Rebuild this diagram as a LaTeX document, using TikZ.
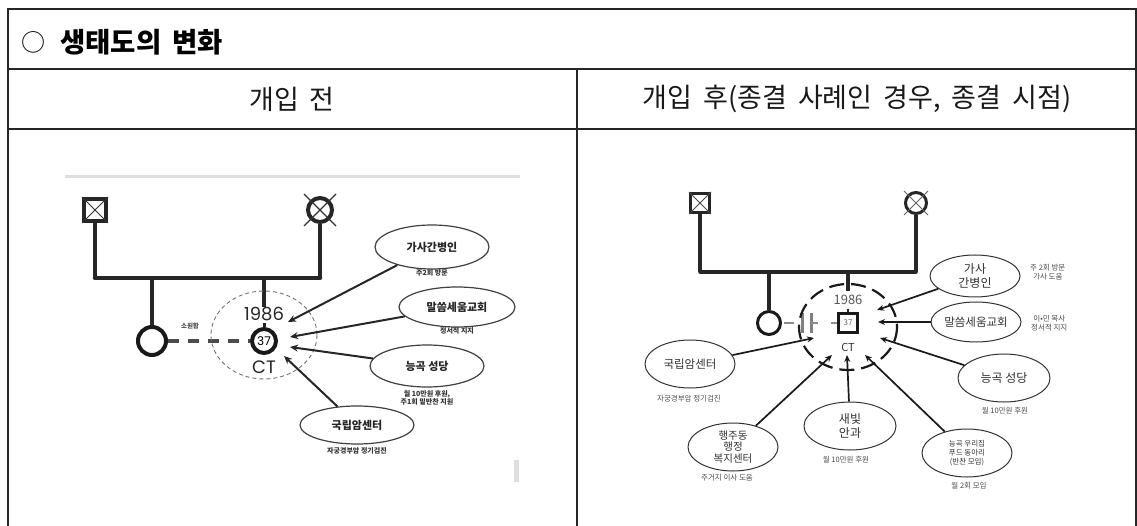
\documentclass[tikz,border=0pt]{standalone}
\usepackage{fontspec}
\setmainfont{Noto Sans CJK KR}
\newfontfamily\geo{Poppins}
\usetikzlibrary{shapes.geometric,arrows.meta,calc}
\begin{document}
\begin{tikzpicture}[x=1pt,y=-1pt,
  grid/.style={line width=1.3pt, draw=black!85},
  lbub/.style={ellipse, draw=black!75, line width=1.2pt, inner sep=0pt, font=\bfseries\fontsize{11}{12}\selectfont, text=black!85},
  rbub/.style={ellipse, draw=black!80, line width=1pt, inner sep=0pt, align=center, font=\fontsize{12}{14}\selectfont, text=black!80},
  lsub/.style={font=\bfseries\fontsize{7}{8.5}\selectfont, text=black!80, align=center, inner sep=0pt},
  rsub/.style={font=\fontsize{7.5}{9}\selectfont, text=black!70, align=center, inner sep=0pt},
  larr/.style={-{Stealth[length=8pt,width=7pt]}, line width=2pt, draw=black!85},
  rarr/.style={-{Stealth[length=7pt,width=6pt]}, line width=1.7pt, draw=black!90},
  lgen/.style={line width=4.5pt, draw=black!85},
  rgen/.style={line width=3.5pt, draw=black!85},
  lnum/.style={font=\geo\fontsize{18}{18}\selectfont, text=black!85, inner sep=0pt},
  rnum/.style={font=\fontsize{13}{13}\selectfont, text=black!65, inner sep=0pt},
  head/.style={font=\fontsize{27}{29}\selectfont, text=black!90, inner sep=0pt}
]
\useasboundingbox (0,0) rectangle (1137,526);
\fill[white] (0,0) rectangle (1137,526);

% ---------- table ----------
\draw[grid] (8,526) -- (8,9) -- (1136,9) -- (1136,526);
\draw[grid] (8,69) -- (1136,69);
\draw[grid] (8,129) -- (1136,129);
\draw[grid] (577,69) -- (577,526);
\node[anchor=west, font=\fontsize{24}{26}\selectfont, inner sep=0pt] (tcirc) at (21,42) {○};
\node[anchor=west, font=\bfseries\fontsize{27.5}{29}\selectfont, inner sep=0pt] (title) at (60,42) {생태도의\hskip 11pt 변화};
\node[head] (hbefore) at (292,99) {개입\hskip 11pt 전};
\node[head] (hafter) at (857,99) {\spaceskip=11pt 개입 후(종결 사례인 경우, 종결 시점)};

% ---------- left diagram ----------
\draw[line width=3pt, draw=black!13] (65,177) -- (520,177);
\fill[black!13] (514,460) rectangle (519,482);

% parents
\node[draw=black!85, line width=4pt, minimum size=22pt, inner sep=0pt] (lfa) at (95,210) {};
\draw[line width=1pt, black!80] (lfa.north west) -- (lfa.south east) (lfa.north east) -- (lfa.south west);
\node[circle, draw=black!85, line width=4pt, minimum size=24pt, inner sep=0pt] (lmo) at (320,210) {};
\draw[line width=1.2pt, black!80] ($(lmo)+(-16,-16)$) -- ($(lmo)+(16,16)$);
\draw[line width=1.2pt, black!80] ($(lmo)+(16,-16)$) -- ($(lmo)+(-16,16)$);
\coordinate (lfb) at (95,278);
\coordinate (lmb) at (320,278);
\draw[lgen] (lfa.south) -- (lfb);
\draw[lgen] (lmo.south) -- (lmb);
\draw[lgen, line cap=round] (lfb) -- (lmb);

% children
\node[circle, draw=black!90, line width=4pt, minimum size=28pt, inner sep=0pt] (lsis) at (152,341) {};
\coordinate (lsisT) at (152,278);
\draw[lgen] (lsisT) -- (lsis.north);
\node[lnum] (lyear) at (264,314) {1986};
\coordinate (lctT) at (264,278);
\draw[lgen] (lctT) -- (lyear.north);
\node[circle, draw=black!90, line width=4pt, minimum size=24pt, inner sep=0pt, font=\geo\fontsize{12}{12}\selectfont] (lct) at (264,341) {37};
\draw[line width=3pt, black!85] (lct.north) -- ++(0,-4);
\node[lnum] (lctlab) at (264,367) {CT};
\draw[line width=4pt, draw=black!70, dash pattern=on 11pt off 9pt] (lsis.east) -- (lct.west);
\node[font=\bfseries\fontsize{6.5}{7}\selectfont, text=black!70, inner sep=0pt] (lestr) at (190,326) {소원함};
\draw[line width=0.9pt, draw=black!55, dash pattern=on 4pt off 3pt] (264,335) ellipse (53 and 44);

% ecomap bubbles
\node[lbub, minimum width=114pt, minimum height=44pt] (lga) at (432,247) {가사간병인};
\node[lsub] (lgas) at (432,273) {주2회 방문};
\node[lbub, minimum width=116pt, minimum height=40pt] (lmal) at (457,307) {말씀세움교회};
\node[lsub] (lmals) at (457,331) {정서적 지지};
\node[lbub, minimum width=114pt, minimum height=42pt] (lnung) at (427,366) {능곡 성당};
\node[lsub] (lnungs) at (427,398) {월 10만원 후원,\\주1회 밑반찬 지원};
\node[lbub, minimum width=114pt, minimum height=38pt] (lcan) at (357,425) {국립암센터};
\node[lsub] (lcans) at (357,451) {자궁경부암 정기검진};

\coordinate (lt1) at (288,322);
\coordinate (lt2) at (290,337);
\coordinate (lt3) at (290,347);
\coordinate (lt4) at (284,356);
\draw[larr] (lga) -- (lt1);
\draw[larr] (lmal) -- (lt2);
\draw[larr] (lnung) -- (lt3);
\draw[larr] (lcan) -- (lt4);

% ---------- right diagram ----------
\node[draw=black!85, line width=3pt, minimum size=19pt, inner sep=0pt] (rfa) at (700,203) {};
\draw[line width=0.8pt, black!70] (rfa.north west) -- (rfa.south east) (rfa.north east) -- (rfa.south west);
\node[circle, draw=black!85, line width=3pt, minimum size=21pt, inner sep=0pt] (rmo) at (916,203) {};
\draw[line width=0.8pt, black!60] ($(rmo)+(-12,-12)$) -- ($(rmo)+(12,12)$);
\draw[line width=0.8pt, black!60] ($(rmo)+(12,-12)$) -- ($(rmo)+(-12,12)$);
\coordinate (rfb) at (700,272);
\coordinate (rmb) at (916,272);
\draw[rgen] (rfa.south) -- (rfb);
\draw[rgen] (rmo.south) -- (rmb);
\draw[rgen, line cap=round] (rfb) -- (rmb);

\node[circle, draw=black!90, line width=3pt, minimum size=23pt, inner sep=0pt] (rsis) at (769,323) {};
\coordinate (rsisT) at (769,272);
\draw[rgen] (rsisT) -- (rsis.north);
\coordinate (rctT) at (848,272);
\coordinate (rctB) at (848,291);
\draw[rgen] (rctT) -- (rctB);
\node[rnum] (ryear) at (848,300) {1986};
\node[draw=black!90, line width=3pt, minimum size=19pt, inner sep=0pt, font=\fontsize{8}{8}\selectfont, text=black!60] (rct) at (848,323) {37};
\draw[line width=2.5pt, black!85] (rct.north) -- ++(0,-3);
\node[font=\fontsize{11}{11}\selectfont, text=black!80, inner sep=0pt] (rctlab) at (848,347) {CT};
% divorce marks
\draw[line width=2.5pt, black!45] (784,323) -- (794,323);
\draw[line width=3pt, black!50] (802,313) -- (802,333);
\draw[line width=3pt, black!50] (811,313) -- (811,333);
\draw[line width=2.5pt, black!45] (811,323) -- (818,323);
\draw[line width=2.5pt, black!45] (831,323) -- (rct.west);
\draw[line width=2.2pt, draw=black!90, dash pattern=on 15pt off 7pt] (848,327) ellipse (49 and 43);

% bubbles
\node[rbub, minimum width=90pt, minimum height=42pt] (rga) at (975,276) {가사\\간병인};
\node[rsub, anchor=west] (rgas) at (1030,272) {주 2회 방문\\가사 도움};
\node[rbub, minimum width=90pt, minimum height=40pt, font=\fontsize{11.5}{13}\selectfont] (rmal) at (976,322) {말씀세움교회};
\node[rsub, anchor=west] (rmals) at (1031,323) {이•민 목사\\정서적 지지};
\node[rbub, minimum width=90pt, minimum height=48pt, font=\fontsize{11.5}{13}\selectfont] (rcan) at (690,364) {국립암센터};
\node[rsub] (rcans) at (689,399) {자궁경부암 정기검진};
\node[rbub, minimum width=92pt, minimum height=48pt] (rnung) at (1004,378) {능곡 성당};
\node[rsub] (rnungs) at (1005,411) {월 10만원 후원};
\node[rbub, minimum width=90pt, minimum height=48pt, font=\fontsize{10.5}{11.5}\selectfont] (rhaeng) at (733,447) {행주동\\행정\\복지센터};
\node[rsub] (rhaengs) at (727,478) {주거지 이사 도움};
\node[rbub, minimum width=92pt, minimum height=48pt] (rsae) at (850,426) {새빛\\안과};
\node[rsub] (rsaes) at (846,460) {월 10만원 후원};
\node[rbub, minimum width=90pt, minimum height=48pt, font=\fontsize{7.5}{9}\selectfont] (rfood) at (967,453) {능곡 우리집\\푸드 동아리\\(반찬 모임)};
\node[rsub] (rfoods) at (969,486) {월 2회 모임};

\coordinate (rt1) at (877,310);
\coordinate (rt2) at (878,322);
\coordinate (rt3) at (814,338);
\coordinate (rt4) at (832,355);
\coordinate (rt5) at (847,355);
\coordinate (rt6) at (865,355);
\coordinate (rt7) at (880,338);
\draw[rarr] (rga) -- (rt1);
\draw[rarr] (rmal) -- (rt2);
\draw[rarr] (rcan) -- (rt3);
\draw[rarr] (rhaeng) -- (rt4);
\draw[rarr] (rsae) -- (rt5);
\draw[rarr] (rfood) -- (rt6);
\draw[rarr] (rnung) -- (rt7);
\end{tikzpicture}
\end{document}
